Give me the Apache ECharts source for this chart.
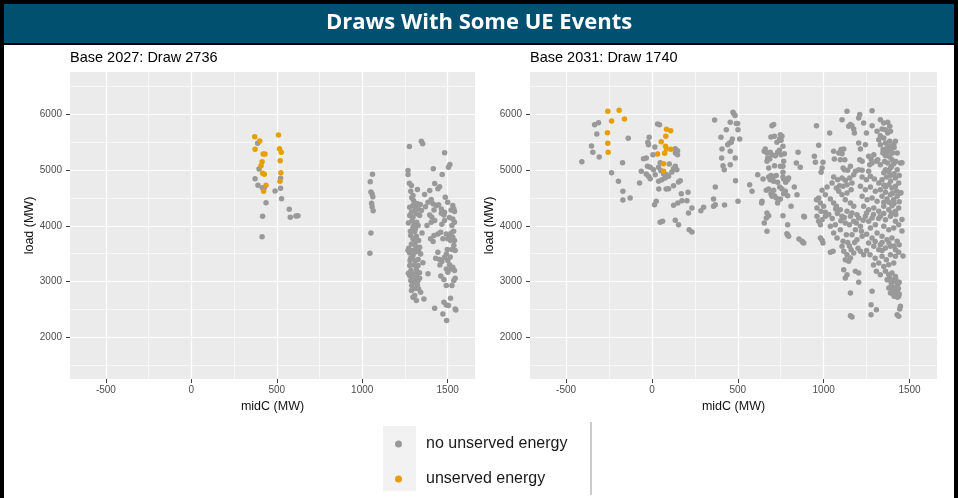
<!doctype html>
<meta charset="utf-8">
<style>
  html, body { margin: 0; padding: 0; width: 100%; height: 100%; background: #fff; }
  #chart { width: 958px; height: 498px; }
</style>
<script src="https://cdn.jsdelivr.net/npm/echarts@6/dist/echarts.min.js"></script>

<div id="chart"></div>

<script>
  // tick labels / gridline positions
  const xTicks = [-500, 0, 500, 1000, 1500];
  const xMinor = [-250, 250, 750, 1250];
  const yTicks = [2000, 3000, 4000, 5000, 6000];
  const yMinor = [1500, 2500, 3500, 4500, 5500, 6500];
  const panelTitles = ['Base 2027: Draw 2736', 'Base 2031: Draw 1740'];
  const groups = ['no unserved energy', 'unserved energy'];

  // Base 2027, [midC, load]
  const base2027_ok = [
    [388,5476],[396,5016],[373,4843],[390,4725],[415,4682],[427,4682],[490,4623],[522,4671],[522,4850],[528,4485],
    [437,4413],[417,4170],[573,4295],[579,4152],[612,4175],[624,4181],[414,3805],
    [1060,4921],[1047,4789],[1051,4605],[1058,4569],[1062,4521],[1055,4402],[1058,4342],[1064,4270],[1051,3871],[1045,3508],
    [1276,5417],[1346,5513],[1354,5465],[1482,5304],[1268,4988],[1268,4917],[1416,5018],[1468,4917],[1505,5048],[1513,5095],
    [1276,4761],[1288,4720],[1284,4618],[1297,4541],[1323,4648],[1365,4559],[1395,4630],[1424,4755],[1443,4660],[1453,4696],[1486,4511],
    [1385,4422],[1404,4469],[1414,4392],[1433,4362],[1447,4374],[1463,4302],[1482,4243],[1530,4362],[1536,4302],[1540,4255],
    [1278,4332],[1297,4362],[1311,4350],[1327,4302],[1307,4272],[1288,4243],[1278,4183],[1297,4153],[1317,4213],[1336,4183],[1346,4272],
    [1395,4195],[1408,4153],[1424,4094],[1404,4064],[1379,4004],[1463,4225],[1478,4195],[1482,4094],[1466,4028],[1530,4123],[1540,4064],[1525,4004],
    [1292,4094],[1303,4034],[1319,4064],[1297,3974],[1311,3945],[1327,4004],[1307,3897],
    [1284,3825],[1297,3766],[1317,3813],[1330,3736],[1288,3676],[1311,3718],
    [1400,3766],[1420,3825],[1443,3855],[1459,3885],[1472,3766],
    [1492,3855],[1505,3825],[1521,3873],[1530,3795],[1540,3736],[1517,3736],[1501,3766],
    [1536,3646],[1544,3557],[1525,3575],
    [1268,3557],[1278,3515],[1292,3557],[1297,3467],[1307,3527],[1317,3599],[1330,3539],[1342,3497],[1336,3616],
    [1284,3420],[1311,3378],[1327,3396],
    [1443,3527],[1453,3396],[1466,3360],[1482,3438],[1498,3575],[1492,3497],
    [1501,3378],[1511,3301],[1521,3229],[1530,3259],[1540,3199],
    [1278,3289],[1317,3229],[1327,3289],[1492,3229],[1501,3170],
    [1278,3110],[1292,3080],[1303,3050],[1317,3110],[1307,2990],[1327,3020],[1336,3062],[1297,3140],[1284,3020],[1323,2943],
    [1385,3140],[1478,3038],[1544,3062],[1536,3020],[1492,2931],[1525,2931],
    [1330,2871],[1342,2812],[1288,2841],[1307,2752],[1297,2722],[1317,2662],[1361,2692],
    [1517,2704],[1424,2525],[1478,2633],[1492,2585],[1505,2573],[1544,2513],[1548,2495],[1472,2424],[1494,2305],
    [1272,3600],[1282,3900],[1270,4050],[1285,3200],[1300,3300],[1320,3170],[1335,3160],[1290,2930],[1310,2880],
    [1320,4400],[1300,4450],[1290,4500],[1340,4380],[1350,3870],[1355,3340],[1415,3720],[1430,3420],[1460,3100],
    [1455,3300],[1515,3440],[1535,3900],[1510,4150],[1520,4280],[1500,4420],[1420,4280],[1370,4340],[1310,3650],
    [1280,3380],[1270,3150]
  ];
  const base2027_ue = [
    [371,5594],[400,5517],[373,5368],[420,5284],[431,5284],[414,5147],[408,5075],[417,4939],[427,4921],
    [437,4725],[423,4617],[510,5624],[516,5379],[526,5315],[520,5165],[524,4950],[519,4796]
  ];

  // Base 2031
  const base2031_ok = [
    [-334,5808],[-311,5844],[-321,5641],[-352,5427],[-344,5313],[-307,5230],[-408,5146],[-138,5564],[-171,5129],[-235,4950],
    [-195,4795],[-169,4616],[-169,4461],[-127,4497],
    [33,5820],[44,5808],[-16,5582],[-24,5492],[-20,5451],[17,5409],[6,5272],[-33,5212],[-49,5200],[-62,4974],[-72,4765],
    [-26,5063],[-10,5045],[9,5003],[39,5045],[19,4914],[-20,4884],[-33,4926],[-10,4842],[48,5129],[52,4986],
    [39,4795],[58,4825],[77,4854],[87,4914],[68,4926],[97,4884],[40,4657],[83,4657],[97,4663],[126,4717],[155,4783],[165,4807],
    [136,5379],[149,5343],[149,5272],[137,5301],[101,5105],[116,4962],[136,5063],[145,5003],[126,5021],
    [171,4574],[210,4598],[151,4407],[126,4365],[175,4449],[204,4449],[233,4318],[213,4228],[15,4377],[25,4437],
    [48,4061],[62,4079],[136,4097],[155,4020],[217,3930],[233,3888],[301,4330],[285,4270],[365,5892],
    [472,6029],[484,5970],[476,6006],[456,5851],[491,5827],[499,5827],[433,5719],[501,5719],[402,5582],[468,5552],
    [462,5493],[511,5552],[441,5451],[452,5481],[408,5373],[456,5332],[406,5212],[485,5212],[414,5075],[421,5004],
    [456,5093],[487,4807],[369,4694],[359,4479],[369,4378],[359,4348],[423,4372],[501,4437],
    [569,4735],[583,4616],[616,4914],[641,4437],[647,4837],[699,5791],[709,5809],[693,5588],[713,5600],[748,5630],
    [757,5600],[744,5552],[752,5529],[728,5493],[763,5421],[742,5350],[732,5314],[660,5373],[654,5332],[670,5302],
    [699,5272],[689,5314],[670,5153],[674,5212],[686,5194],[719,5254],[752,5272],[771,5290],[767,5153],[748,5063],
    [763,5063],[714,5075],[680,5034],[693,4897],[705,4873],[689,4825],[709,4795],[699,4825],[724,4897],[680,4873],
    [763,4956],[767,4837],[790,4825],[763,4873],[732,4777],[779,4777],[796,4855],
    [666,4634],[680,4658],[693,4575],[709,4634],[699,4527],[713,4539],[724,4497],[738,4467],[748,4479],[732,4408],
    [744,4694],[757,4658],[777,4616],[790,4539],[767,4575],[829,4694],[845,4556],[810,4348],[851,5314],[841,5123],[864,5045],
    [639,4408],[670,4229],[680,4181],[666,4139],[654,4050],[670,3901],[763,4181],[790,4020],[786,3859],[796,3811],
    [790,3841],[856,3763],[878,3704],[888,4157],
    [958,5791],[1035,5660],[971,5439],[946,5242],[952,5135],[996,5135],[991,5034],[985,4956],[1058,5332],[1088,5302],
    [1101,5362],[1117,5373],[1107,5290],[1062,5194],[1097,5183],[1123,5183],[1113,5034],[1121,5004],[1140,4992],[1156,5063],
    [1107,5898],[1136,6047],[1156,5809],[1165,5791],[1146,5779],[1175,5731],[1179,5660],[1210,5988],[1204,5928],[1233,5839],
    [1282,6059],[1282,5791],[1249,5660],[1204,5481],[1214,5373],[1243,5451],[1210,5183],[1224,5153],[1204,5004],[1224,4992],
    [1185,4974],[1175,4914],[1262,5242],[1276,5194],[1292,5272],[1282,5123],[1268,5093],[1307,5153],[1262,4974],
    [1330,5898],[1350,5839],[1373,5851],[1385,5779],[1360,5719],[1340,5731],[1311,5690],[1330,5612],[1321,5540],[1350,5570],
    [1373,5660],[1389,5690],[1330,5451],[1360,5481],[1385,5511],[1408,5451],[1369,5391],[1346,5362],[1393,5362],[1418,5511],
    [1428,5302],[1360,5254],[1385,5230],[1398,5183],[1373,5123],[1408,5111],[1389,5034],[1360,5004],[1428,5004],[1447,5123],
    [1315,5183],[1330,5093],
    [1058,4873],[1049,4765],[1020,4694],[991,4634],[1010,4556],[971,4497],[958,4467],[981,4408],[1000,4348],[961,4318],
    [985,4258],[1010,4241],[1082,4825],[1107,4855],[1126,4813],[1152,4855],[1165,4765],[1136,4735],[1113,4706],[1093,4718],
    [1074,4676],[1088,4616],[1107,4556],[1136,4586],[1160,4646],[1039,4479],[1058,4408],[1074,4348],[1097,4288],[1126,4467],
    [1156,4408],[1175,4348],[1136,4258],[1165,4229],[1194,4199],[1224,4873],[1249,4825],[1272,4885],[1295,4837],[1321,4765],
    [1340,4825],[1366,4873],[1389,4897],[1418,4855],[1214,4706],[1243,4646],[1272,4694],[1301,4616],[1330,4646],[1360,4694],
    [1379,4735],[1398,4676],[1418,4706],[1437,4765],[1224,4527],[1253,4467],[1282,4497],[1311,4437],[1340,4527],[1369,4479],
    [1389,4556],[1408,4467],[1428,4527],[1447,4586],[1233,4348],[1262,4288],[1292,4318],[1321,4258],[1350,4348],[1379,4288],
    [1398,4360],[1418,4258],[1437,4318],
    [884,4169],[874,3722],[884,3692],[961,4169],[971,4079],[981,4020],[991,4109],[1010,4169],[981,3781],[996,3692],
    [991,3739],[1039,3525],[1055,3543],[1039,3990],[1058,3871],[1068,4020],[1078,3781],[1097,3930],[1107,4169],[1126,4050],
    [1113,3722],[1107,3632],[1132,3841],[1117,3543],[1136,3483],[1156,3423],[1146,3364],[1126,3394],[1175,3513],[1160,3572],
    [1156,4169],[1175,4079],[1204,4139],[1214,3990],[1185,3930],[1165,3841],[1194,3751],[1224,3811],[1214,3543],[1233,3483],
    [1243,4169],[1262,4079],[1282,4139],[1301,4020],[1272,3960],[1311,3871],[1282,3781],[1262,3692],[1292,3632],[1321,3572],
    [1330,4169],[1360,4109],[1389,4169],[1418,4079],[1350,3990],[1379,3930],[1408,3960],[1437,4020],[1340,3811],[1369,3751],
    [1398,3781],[1428,3722],[1330,3662],[1360,3602],[1389,3632],[1418,3572],[1340,3453],[1365,3394],[1389,3483],[1418,3453],
    [1437,3525],[1321,3334],[1350,3274],[1379,3304],[1408,3334],[1360,3185],[1379,3125],[1398,3155],[1418,3095],[1369,3036],
    [1393,2976],[1412,3006],[1431,2946],[1379,2887],[1404,2857],[1428,2827],[1389,2797],[1418,2767],[1437,2738],
    [1307,3185],[1330,3125],[1117,3215],[1136,3125],[1126,3066],[1185,3185],[1204,3155],[1204,2988],[1156,2797],[1282,2827],
    [1276,2589],[1307,2499],[1447,2559],[1443,2511],[1276,2410],[1156,2392],[1165,2368],[1428,2410],[1437,2380],
    [1456,5125],[1450,4590],[1456,4113],[1456,3905],[1462,3459],
    [1385,3060],[1400,3020],[1420,3050],[1440,2990],[1395,2920],[1415,2900],[1435,2880],[1400,2800],[1425,2790],[1440,2780],
    [1410,2740],[1430,2720],[1345,5300],[1370,5310],[1400,5300],[1380,5420],[1410,5400],[1355,5150],[1395,5060],[1420,5150],
    [1350,4950],[1380,4960],[1410,4930],[1440,4900],[1350,4730],[1390,4800],[1425,4620],[1400,4580],[1360,4600],[1410,4400],
    [1380,4420],[1350,4420],[1440,4430],[1420,4200],[1395,4230],[1350,4220],[1320,4130],[1290,4200],[1250,4230],[1230,4100],
    [1190,4050],[1150,4020],[1120,4150],[1100,4090],[1080,4220],[1050,4130],[1030,4200],[1070,4300],[1300,3720],[1340,3700],
    [1380,3690],[1410,3640],[1440,3660],[1250,3850],[1220,3900],[1180,3700],[1150,3640],[1140,3700],[1200,3600],[1250,3560],
    [1270,3480],[1300,3420],[1290,3300],[1340,3560]
  ];
  const base2031_ue = [
    [-257,6047],[-191,6065],[-235,5874],[-160,5910],[-259,5665],[-257,5474],[-255,5313],
    [85,5725],[109,5701],[81,5600],[54,5504],[79,5421],[85,5373],[110,5367],[74,5296],[33,5284],[68,5111],[68,4974]
  ];

  const GREY = '#999999', ORANGE = '#E69F00';
  const lbl = { fontFamily: 'Liberation Sans', fontSize: 10, color: '#4D4D4D', formatter: v => String(v) };
  const nameStyle = { fontFamily: 'Liberation Sans', fontSize: 12.5, color: '#111' };
  const grids = [
    { left: 70, top: 72, width: 405, height: 307 },
    { left: 530, top: 72, width: 407, height: 307 }
  ];

  let xAxes = [], yAxes = [];
  grids.forEach((g, i) => {
    xAxes.push({
      gridIndex: i, type: 'value', min: -710, max: 1660,
      name: 'midC (MW)', nameLocation: 'middle', nameGap: 17, nameTextStyle: nameStyle,
      axisLine: { show: false, onZero: false },
      axisTick: { show: true, length: 4, customValues: xTicks, lineStyle: { color: '#444' } },
      axisLabel: Object.assign({ customValues: xTicks, margin: 6 }, lbl),
      splitLine: { show: true, lineStyle: { color: '#fff', width: 1.2 } }
    });
    xAxes.push({
      gridIndex: i, type: 'value', min: -710, max: 1660, position: 'top',
      axisLine: { show: false, onZero: false }, axisLabel: { show: false },
      axisTick: { show: false, customValues: xMinor },
      splitLine: { show: true, lineStyle: { color: '#fff', width: 0.6 } }
    });
    yAxes.push({
      gridIndex: i, type: 'value', min: 1260, max: 6750,
      name: 'load (MW)', nameLocation: 'middle', nameGap: 28, nameTextStyle: nameStyle,
      axisLine: { show: false, onZero: false },
      axisTick: { show: true, length: 4, customValues: yTicks, lineStyle: { color: '#444' } },
      axisLabel: Object.assign({ customValues: yTicks, margin: 8 }, lbl),
      splitLine: { show: true, lineStyle: { color: '#fff', width: 1.2 } }
    });
    yAxes.push({
      gridIndex: i, type: 'value', min: 1260, max: 6750, position: 'right',
      axisLine: { show: false, onZero: false }, axisLabel: { show: false },
      axisTick: { show: false, customValues: yMinor },
      splitLine: { show: true, lineStyle: { color: '#fff', width: 0.6 } }
    });
  });

  function pts(name, data, i, color) {
    return {
      type: 'scatter', name: name, data: data,
      xAxisIndex: i * 2, yAxisIndex: i * 2,
      symbolSize: 5.5, itemStyle: { color: color, opacity: 1 },
      z: color === ORANGE ? 4 : 3
    };
  }

  let chart = echarts.init(document.getElementById('chart'));
  chart.setOption({
    animation: false,
    title: [
      { text: 'Draws With Some UE Events', left: 'center', top: 12, padding: 0,
        textStyle: { fontFamily: 'Open Sans', fontWeight: 'bold', fontSize: 22, color: '#fff' } },
      { text: panelTitles[0], left: 70, top: 50, padding: 0,
        textStyle: { fontFamily: 'Liberation Sans', fontWeight: 'normal', fontSize: 14.5, color: '#000' } },
      { text: panelTitles[1], left: 530, top: 50, padding: 0,
        textStyle: { fontFamily: 'Liberation Sans', fontWeight: 'normal', fontSize: 14.5, color: '#000' } }
    ],
    graphic: [
      { type: 'rect', shape: { x: 0, y: 0, width: 958, height: 45 }, style: { fill: '#000' }, z: -1 },
      { type: 'rect', shape: { x: 4, y: 4, width: 950, height: 39 }, style: { fill: '#01506F' }, z: -1 },
      { type: 'rect', shape: { x: 0, y: 0, width: 4, height: 498 }, style: { fill: '#000' }, z: -1 },
      { type: 'rect', shape: { x: 954, y: 0, width: 4, height: 498 }, style: { fill: '#000' }, z: -1 },
      { type: 'rect', shape: { x: 383, y: 426, width: 33, height: 65 }, style: { fill: '#F2F2F2' }, z: -1 },
      { type: 'line', shape: { x1: 591, y1: 422, x2: 591, y2: 495 }, style: { stroke: '#999', lineWidth: 1 }, z: -1 }
    ],
    legend: {
      data: groups, orient: 'vertical', left: 395, top: 434, padding: 0,
      icon: 'circle', itemWidth: 7, itemHeight: 7, itemGap: 15,
      textStyle: { fontFamily: 'Liberation Sans', fontSize: 16, lineHeight: 20, color: '#1a1a1a', padding: [0, 0, 0, 19] }
    },
    grid: grids.map(g => Object.assign({ show: true, backgroundColor: '#EBEBEB', borderWidth: 0 }, g)),
    xAxis: xAxes,
    yAxis: yAxes,
    series: [
      pts(groups[0], base2027_ok, 0, GREY),
      pts(groups[1], base2027_ue, 0, ORANGE),
      pts(groups[0], base2031_ok, 1, GREY),
      pts(groups[1], base2031_ue, 1, ORANGE)
    ]
  });
</script>
